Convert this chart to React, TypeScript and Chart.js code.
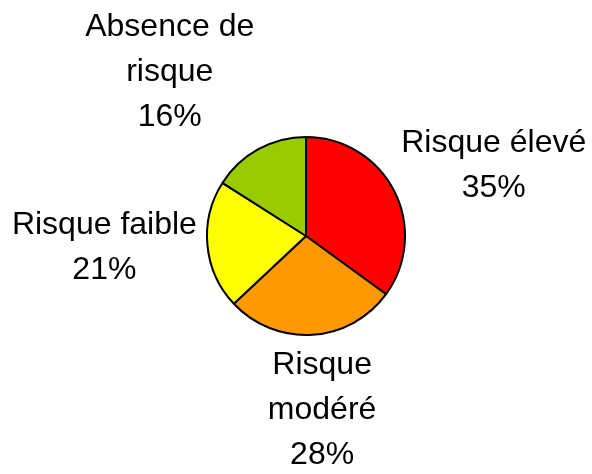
import React, { useEffect, useRef } from "react";
import { Chart, registerables } from "chart.js";

Chart.register(...registerables);

const categories = ["Risque élevé", "Risque modéré", "Risque faible", "Absence de risque"];
const labelLines = [["Risque élevé"], ["Risque", "modéré"], ["Risque faible"], ["Absence de", "risque"]];
const values = [35, 28, 21, 16];
const colors = ["#FF0000", "#FF9900", "#FFFF00", "#99CC00"];

const labelNudges = [
  [10, -1],
  [6, 0],
  [-3, -3],
  [-44, -11],
];

const outsideLabels = {
  id: "outsideLabels",
  afterDraw(chart: any) {
    const ctx = chart.ctx;
    const meta = chart.getDatasetMeta(0);
    const data = chart.data.datasets[0].data as number[];
    const total = data.reduce((a: number, b: number) => a + b, 0);
    const fontSize = 32;
    const lineH = 45;
    const gap = 8;
    ctx.save();
    ctx.font = `${fontSize}px "Liberation Sans", Arial, sans-serif`;
    ctx.fillStyle = "#000";
    ctx.textAlign = "center";
    ctx.textBaseline = "middle";
    meta.data.forEach((arc: any, i: number) => {
      const { x, y, startAngle, endAngle, outerRadius } = arc.getProps(
        ["x", "y", "startAngle", "endAngle", "outerRadius"],
        true
      );
      const mid = (startAngle + endAngle) / 2;
      const dx = Math.cos(mid);
      const dy = Math.sin(mid);
      const lines = [...labelLines[i], `${Math.round((data[i] / total) * 100)}%`];
      const w = Math.max(...lines.map((l) => ctx.measureText(l).width));
      const h = lines.length * lineH;
      const ax = x + dx * (outerRadius + gap);
      const ay = y + dy * (outerRadius + gap);
      const cx = ax + (dx * w) / 2 + labelNudges[i][0];
      const cy = ay + (dy * h) / 2 + labelNudges[i][1];
      lines.forEach((l, j) => {
        ctx.fillText(l, cx, cy + (j - (lines.length - 1) / 2) * lineH);
      });
    });
    ctx.restore();
  },
};

export default function App() {
  const ref = useRef<HTMLCanvasElement>(null);
  useEffect(() => {
    if (!ref.current) return;
    const chart = new Chart(ref.current, {
      type: "pie",
      data: {
        labels: categories,
        datasets: [
          {
            data: values,
            backgroundColor: colors,
            borderColor: "#000000",
            borderWidth: 2,
          },
        ],
      },
      options: {
        animation: false,
        responsive: false,
        maintainAspectRatio: false,
        layout: { padding: { left: 206, right: 186, top: 136, bottom: 138 } },
        plugins: {
          legend: { display: false },
          tooltip: { enabled: false },
        },
      },
      plugins: [outsideLabels],
    });
    return () => chart.destroy();
  }, []);
  return (
    <div style={{ position: "fixed", left: 0, top: 0, width: 592, height: 474, background: "#fff" }}>
      <canvas ref={ref} width={592} height={474} style={{ width: 592, height: 474 }} />
    </div>
  );
}
